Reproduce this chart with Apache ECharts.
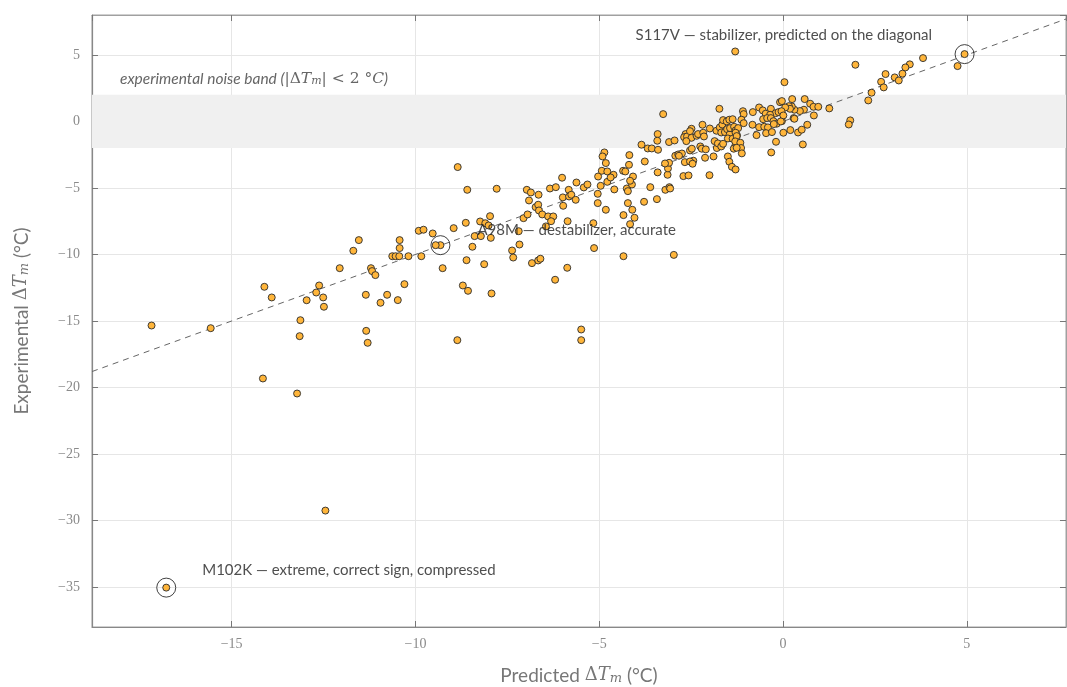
<!DOCTYPE html>
<html>
<head>
<meta charset="utf-8">
<script src="https://cdn.jsdelivr.net/npm/echarts@6/dist/echarts.min.js"></script>
<style>
html,body{margin:0;padding:0;background:#fff;}
#chart{width:1067px;height:687px;}
</style>
</head>
<body>
<div id="chart"></div>
<script>
// Predicted ΔTm (x) and experimental ΔTm (y)
const predicted = [
-17.18,-15.57,-16.78,-14.15,-13.22,-12.45,-14.11,-13.91,-13.13,-13.15,-12.96,-12.70,-12.62,-12.51,-12.49,-12.06,-11.69,-11.54,-11.35,-11.34,
-11.30,-11.21,-11.18,-11.09,-10.95,-10.77,-10.48,-10.30,-10.63,-10.54,-10.44,-10.43,-10.43,-10.19,-9.84,-9.91,-9.78,-9.53,-9.32,-9.45,
-9.26,-8.96,-8.86,-8.71,-8.57,-8.61,-8.63,-8.59,-8.85,-8.45,-8.39,-8.24,-8.22,-8.13,-8.10,-8.01,-7.97,-7.95,-7.93,-7.79,
-7.19,-7.17,-7.37,-7.34,-6.83,-6.66,-6.60,-5.87,-6.20,-7.06,-6.95,-6.73,-6.66,-6.64,-6.55,-6.39,-6.25,-6.31,-6.45,-6.97,
-6.86,-6.65,-6.91,-6.34,-6.18,-6.01,-5.86,-5.98,-5.99,-5.82,-5.83,-5.76,-5.62,-5.64,-5.42,-5.32,-5.16,-5.14,-5.03,-5.04,
-5.04,-5.49,-5.49,-4.34,-2.97,-4.96,-4.78,-4.59,-4.25,-4.22,-4.11,-4.22,-4.10,-4.34,-4.04,-4.16,-4.82,-3.78,-3.61,-3.43,
-3.20,-3.09,-3.07,-3.26,-1.73,-3.41,-3.42,-3.85,-3.68,-3.57,-3.40,-4.86,-4.91,-4.18,-4.82,-4.19,-3.76,-4.93,-4.78,-4.61,
-4.69,-4.35,-4.29,-4.08,-4.16,-3.41,-3.14,-3.13,-3.10,-3.21,-2.93,-2.85,-2.71,-2.57,-2.67,-2.44,-2.53,-2.48,-2.75,-2.83,
-3.10,-2.95,-2.65,-2.69,-2.61,-2.49,-2.53,-2.49,-2.63,-2.35,-2.31,-2.19,-2.17,-2.15,-2.25,-2.21,-2.10,-2.53,-2.46,-2.12,
-1.99,-1.89,-1.86,-1.80,-1.77,-1.68,-1.63,-1.81,-1.72,-1.65,-1.68,-1.58,-1.52,-1.45,-1.50,-1.63,-1.53,-1.46,-1.37,-1.44,
-1.33,-1.29,-1.37,-1.25,-1.30,-1.34,-1.50,-1.46,-1.39,-1.29,-2.00,0.25,0.59,0.74,0.83,0.96,1.26,0.57,0.46,0.31,
0.24,0.16,0.19,0.06,-0.08,-0.03,-0.33,-0.20,-0.12,-0.04,-0.65,-0.55,-0.82,-0.47,-0.35,-1.09,-1.07,-1.13,-1.07,-0.54,
-0.43,-0.33,-0.26,-0.17,-0.03,0.01,0.29,0.31,-0.83,-0.65,-0.51,-0.41,-0.25,-0.06,-1.22,-1.29,-0.72,-0.46,-0.30,0.01,
0.20,0.41,0.51,0.66,0.84,-0.19,0.54,-0.32,1.83,1.79,2.32,-1.26,-1.30,-1.16,-1.14,-1.12,-1.26,0.04,4.94,4.75,
3.81,3.45,3.33,3.25,3.04,3.15,2.79,2.67,2.74,2.41,1.97,-1.30
];
const experimental = [
-15.34,-15.54,-35.04,-19.32,-20.45,-29.25,-12.43,-13.23,-14.94,-16.14,-13.44,-12.86,-12.33,-13.23,-13.93,-11.03,-9.72,-8.92,-13.03,-15.74,
-16.64,-11.03,-11.25,-11.55,-13.63,-13.03,-13.43,-12.23,-10.13,-10.13,-10.13,-9.52,-8.92,-10.13,-10.13,-8.22,-8.14,-8.42,-9.30,-9.30,
-11.03,-8.02,-16.44,-12.33,-12.73,-10.43,-7.62,-5.14,-3.43,-9.42,-8.62,-7.52,-8.62,-10.73,-7.65,-7.82,-7.12,-8.75,-12.93,-5.06,
-8.25,-9.25,-9.70,-10.23,-10.65,-10.45,-10.32,-11.00,-11.90,-7.27,-6.99,-6.44,-6.26,-6.69,-6.99,-7.14,-7.14,-7.50,-7.89,-5.14,
-5.34,-5.51,-5.94,-5.04,-4.94,-4.23,-7.50,-6.34,-5.71,-5.64,-5.14,-5.51,-4.59,-5.89,-4.96,-4.74,-7.65,-9.52,-4.14,-5.44,
-6.14,-15.64,-16.44,-10.13,-10.03,-4.84,-4.54,-5.11,-5.04,-5.24,-4.74,-6.14,-6.64,-7.04,-7.24,-7.72,-6.64,-6.04,-4.94,-5.84,
-5.14,-4.94,-5.04,0.55,0.95,-0.95,-1.45,-1.75,-2.03,-2.03,-2.13,-2.33,-2.63,-2.53,-3.13,-3.26,-3.01,-3.71,-3.76,-4.01,
-4.21,-3.71,-3.76,-4.14,-4.46,-3.83,-4.01,-3.53,-3.11,-3.16,-2.58,-2.48,-4.11,-4.06,-3.06,-2.95,-2.18,-2.05,-2.41,-2.58,
-1.55,-1.43,-0.95,-1.18,-1.13,-0.55,-0.73,-1.23,-1.48,-1.08,-0.95,-0.25,-0.85,-1.13,-1.88,-2.05,-2.10,-3.01,-3.18,-2.73,
-0.53,-2.63,-1.48,-2.00,-1.65,-1.88,-1.68,-0.70,-0.45,-0.23,-0.83,-0.80,-0.58,-0.98,-1.28,0.10,0.00,0.13,0.17,-0.50,
-0.40,-0.68,-1.30,-1.05,-1.86,-2.05,-2.63,-3.03,-3.41,-3.61,-4.04,1.68,1.68,1.33,1.10,1.10,0.98,0.88,0.78,0.88,
1.13,1.15,0.95,1.05,1.45,1.53,0.95,0.62,0.70,0.77,1.05,0.83,0.70,0.58,0.50,0.77,0.55,0.13,-0.13,0.17,
0.25,0.25,0.02,-0.17,0.02,0.45,0.25,0.20,-0.25,-0.43,-0.40,-0.45,-0.20,0.00,-0.50,-0.85,-1.03,-0.88,-0.80,-0.85,
-0.65,-0.83,-0.62,-0.25,0.45,-1.53,-1.73,-2.33,0.08,-0.23,1.58,-1.10,-1.50,-1.60,-2.00,-2.40,-1.98,2.95,5.06,4.16,
4.76,4.29,4.06,3.59,3.31,3.08,3.56,2.98,2.56,2.16,4.26,5.26
];

// Highlighted mutations
const highlightNames = ['S117V','A98M','M102K'];
const highlightPred = [4.94, -9.32, -16.78];
const highlightExp = [5.06, -9.30, -35.04];
const highlightText = [
  'S117V \u2014 stabilizer, predicted on the diagonal',
  'A98M \u2014 destabilizer, accurate',
  'M102K \u2014 extreme, correct sign, compressed'
];

// Axis extents and the noise band
const xRange = [-18.8, 7.7];
const yRange = [-38, 8];
const noiseBand = [-2, 2];

const points = predicted.map((v, i) => [v, experimental[i]]);
const rings = highlightPred.map((v, i) => ({value: [v, highlightExp[i]], name: highlightNames[i], text: highlightText[i]}));
const labelOffsets = [[-329, -19], [37, -15], [36, -17]];

const minus = v => (v < 0 ? '\u2212' + Math.abs(v) : String(v));
const tickFont = {fontFamily: 'Liberation Serif', fontSize: 14, color: '#8a8a8a'};

const mathRich = {
  t: {fontFamily: 'Lato', fontSize: 19, color: '#777'},
  d: {fontFamily: 'DejaVu Serif', fontSize: 18, color: '#777'},
  i: {fontFamily: 'DejaVu Serif', fontStyle: 'italic', fontSize: 18, color: '#777'},
  s: {fontFamily: 'DejaVu Serif', fontStyle: 'italic', fontSize: 13, color: '#777', verticalAlign: 'bottom', padding: [6, 0, 0, 0]}
};

const chart = echarts.init(document.getElementById('chart'));
chart.setOption({
  animation: false,
  backgroundColor: '#fff',
  grid: {left: 92, right: 1, top: 15, bottom: 60, show: true, borderColor: '#a0a0a0', borderWidth: 1,
    containLabel: false, outerBoundsMode: 'none'},
  xAxis: [{
    type: 'value', min: xRange[0], max: xRange[1], splitNumber: 5,
    axisLine: {show: true, onZero: false, lineStyle: {color: '#888', width: 1.2}},
    axisTick: {show: true, inside: true, length: 6, lineStyle: {color: '#777'}},
    axisLabel: Object.assign({margin: 10, showMinLabel: false, showMaxLabel: false, formatter: v => (v % 5 === 0 ? minus(v) : '')}, tickFont),
    splitLine: {show: true, lineStyle: {color: '#e6e6e6', width: 1}},
    name: '{t|Predicted }{d|\u0394}{i|T}{s|m}{t| (\u00b0C)}',
    nameLocation: 'middle', nameGap: 39,
    nameTextStyle: {rich: mathRich}
  }, {
    type: 'value', position: 'top', min: xRange[0], max: xRange[1], splitNumber: 5,
    axisLine: {show: true, onZero: false, lineStyle: {color: '#a0a0a0'}},
    axisTick: {show: true, inside: true, length: 6, lineStyle: {color: '#777'}},
    axisLabel: {show: false}, splitLine: {show: false}
  }],
  yAxis: [{
    type: 'value', min: yRange[0], max: yRange[1], splitNumber: 9,
    axisLine: {show: true, onZero: false, lineStyle: {color: '#888', width: 1.2}},
    axisTick: {show: true, inside: true, length: 6, lineStyle: {color: '#777'}},
    axisLabel: Object.assign({margin: 12, showMinLabel: false, showMaxLabel: false, formatter: v => (v % 5 === 0 ? minus(v) : '')}, tickFont),
    splitLine: {show: true, lineStyle: {color: '#e6e6e6', width: 1}},
    name: '{t|Experimental }{d|\u0394}{i|T}{s|m}{t| (\u00b0C)}',
    nameLocation: 'middle', nameGap: 61, nameRotate: 90,
    nameTextStyle: {rich: mathRich}
  }, {
    type: 'value', position: 'right', min: yRange[0], max: yRange[1], splitNumber: 9,
    axisLine: {show: true, onZero: false, lineStyle: {color: '#a0a0a0'}},
    axisTick: {show: true, inside: true, length: 6, lineStyle: {color: '#777'}},
    axisLabel: {show: false}, splitLine: {show: false}
  }],
  series: [
    {
      type: 'line', silent: true, symbol: 'none',
      data: [[xRange[0], xRange[0]], [xRange[1], xRange[1]]],
      lineStyle: {color: '#666', width: 1, type: [6, 5]},
      markArea: {
        silent: true,
        itemStyle: {color: '#f0f0f0'},
        label: {
          show: true, position: 'insideTopLeft', offset: [23, -29],
          formatter: '{a|experimental noise band (}{b|\u007c\u0394}{c|T}{e|m}{b|\u007c < 2 \u00b0}{c|C}{a|)}',
          rich: {
            a: {fontFamily: 'Lato', fontStyle: 'italic', fontSize: 15.5, color: '#666'},
            b: {fontFamily: 'DejaVu Serif', fontSize: 15.5, color: '#666'},
            c: {fontFamily: 'DejaVu Serif', fontStyle: 'italic', fontSize: 15.5, color: '#666'},
            e: {fontFamily: 'DejaVu Serif', fontStyle: 'italic', fontSize: 11, color: '#666', verticalAlign: 'bottom', padding: [5, 0, 0, 0]}
          }
        },
        data: [[{yAxis: noiseBand[0]}, {yAxis: noiseBand[1]}]]
      },
      z: 1
    },
    {
      type: 'scatter', data: points, symbol: 'circle', symbolSize: 7,
      itemStyle: {color: '#ffb53a', borderColor: '#2a2a2a', borderWidth: 0.9, opacity: 1},
      z: 3
    },
    {
      type: 'scatter', symbol: 'circle', symbolSize: 19,
      data: rings.map((r, i) => ({
        value: r.value, name: r.name,
        label: {show: true, position: 'inside', align: 'left', verticalAlign: 'middle', offset: labelOffsets[i],
          formatter: r.text, fontFamily: 'Lato', fontSize: 15, color: '#222'}
      })),
      itemStyle: {color: 'rgba(0,0,0,0)', borderColor: '#111', borderWidth: 1},
      z: 4
    }
  ]
});
</script>
</body>
</html>
